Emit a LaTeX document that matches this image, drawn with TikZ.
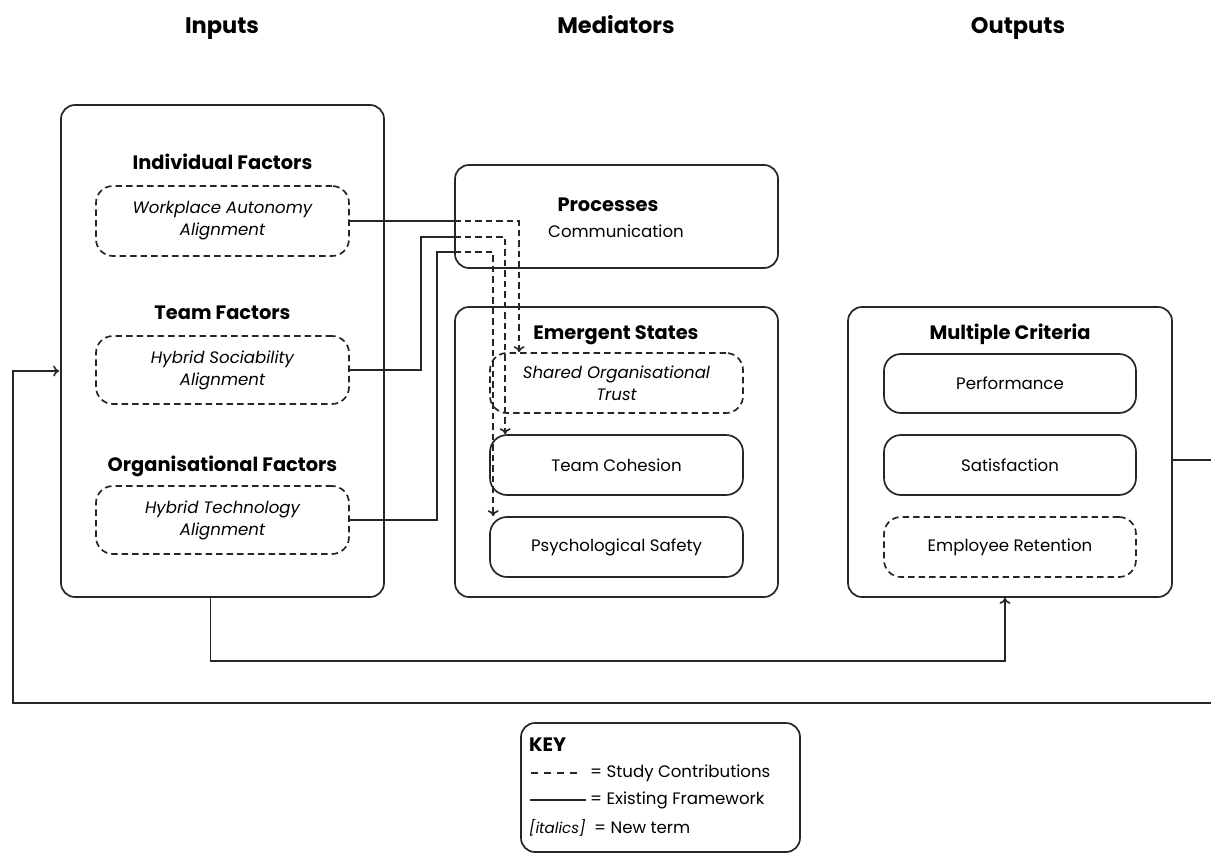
\documentclass[tikz,border=0pt]{standalone}
\usepackage{fontspec}
\setmainfont{Poppins}
\usetikzlibrary{arrows.meta,calc}

\newcommand{\bodyfont}{\fontsize{16.6}{22}\selectfont}
\newcommand{\headfont}{\fontsize{19.4}{24}\selectfont\bfseries}
\newcommand{\colfont}{\fontsize{22.5}{26}\selectfont\bfseries}

\begin{document}
\begin{tikzpicture}[x=1pt,y=-1pt,
  ink/.style={draw=black!85, line width=1.7pt},
  outerbox/.style={ink, rounded corners=14pt, inner sep=0pt},
  itembox/.style={ink, rounded corners=17pt, minimum width=253pt, align=center,
                  font=\bodyfont, inner sep=0pt},
  newbox/.style={itembox, dash pattern=on 6.5pt off 4pt, font=\bodyfont\itshape},
  oldlink/.style={ink, line width=1.6pt},
  newlink/.style={ink, line width=1.6pt, dash pattern=on 6.5pt off 4pt},
  tip/.style={-{To[length=6pt,width=11pt]}},
  heading/.style={font=\headfont, inner sep=0pt},
  coltitle/.style={font=\colfont, inner sep=0pt, anchor=base},
  keytext/.style={font=\bodyfont, inner sep=0pt, anchor=west}]
\useasboundingbox (0,0) rectangle (1211,854);

% column titles
\node[coltitle] (tin)  at (222,33) {Inputs};
\node[coltitle] (tmed) at (616,33) {Mediators};
\node[coltitle] (tout) at (1018,33) {Outputs};

% inputs
\node[outerbox, minimum width=323pt, minimum height=492pt] (inputs) at (222.5,351) {};
\node[heading] (hind)  at (222.5,162) {Individual Factors};
\node[newbox, minimum height=70pt] (wa) at (222.5,221) {Workplace Autonomy\\Alignment};
\node[heading] (hteam) at (222.5,313) {Team Factors};
\node[newbox, minimum height=68pt] (hs) at (222.5,370) {Hybrid Sociability\\Alignment};
\node[heading] (horg)  at (222.5,466) {Organisational Factors};
\node[newbox, minimum height=68pt] (ht) at (222.5,520) {Hybrid Technology\\Alignment};

% mediators
\node[outerbox, minimum width=323pt, minimum height=103pt] (proc) at (616.5,216.5) {};
\node[heading] (hproc) at (608,205) {Processes};
\node[font=\bodyfont, inner sep=0pt] (comm) at (616,231) {Communication};

\node[outerbox, minimum width=323pt, minimum height=290pt] (es) at (616.5,452) {};
\node[heading] (hes) at (616,335) {Emergent States};
\node[newbox, minimum height=60pt] (sot) at (616.5,383) {Shared Organisational\\Trust};
\node[itembox, minimum height=60pt] (tc) at (616.5,465) {Team Cohesion};
\node[itembox, minimum height=60pt] (ps) at (616.5,547) {Psychological Safety};

% outputs
\node[outerbox, minimum width=324pt, minimum height=290pt] (mc) at (1010,452) {};
\node[heading] (hmc) at (1010,334) {Multiple Criteria};
\node[itembox, minimum width=252pt, minimum height=59pt] (perf) at (1010,383.5) {Performance};
\node[itembox, minimum width=252pt, minimum height=60pt] (sat)  at (1010,465) {Satisfaction};
\node[newbox, minimum width=252pt, minimum height=60pt, font=\bodyfont] (er) at (1010,547) {Employee Retention};

% input factors into the mediators
\coordinate (k2) at (421,237);
\coordinate (k3) at (437,252);
\draw[oldlink] (wa.east) -- (proc.west |- wa.east) coordinate (c1);
\draw[newlink, tip] (c1) -| ($(sot.north west)+(30,0)$);
\draw[oldlink] (hs.east) -| (k2) -- (proc.west |- k2) coordinate (c2);
\draw[newlink, tip] (c2) -| ($(tc.north west)+(16,0)$);
\draw[oldlink] (ht.east) -| (k3) -- (proc.west |- k3) coordinate (c3);
\draw[newlink, tip] (c3) -| ($(ps.north west)+(4,0)$);

% direct path from inputs to outputs
\draw[oldlink, tip] ($(inputs.south)+(-12,0)$) -- ++(0,63) -| ($(mc.south)+(-5,0)$);

% feedback loop from outputs back to inputs
\coordinate (fbr) at (1216,703);
\coordinate (fbl) at (13,703);
\draw[oldlink, tip] ($(mc.east)+(0,8)$) -| (fbr) -- (fbl) |- ($(inputs.west)+(-1,20)$);

% key
\node[outerbox, minimum width=279pt, minimum height=129pt] (key) at (660.5,787.5) {};
\node[keytext, font=\headfont] (keyt) at (529,745) {KEY};
\coordinate (ka) at (531,773);
\coordinate (kb) at (583,773);
\coordinate (kc) at (530,800);
\coordinate (kd) at (586,800);
\draw[ink, line width=1.2pt, dash pattern=on 7pt off 6pt] (ka) -- (kb);
\node[keytext] (k1) at (590,773) {= Study Contributions};
\draw[ink, line width=1.4pt] (kc) -- (kd);
\node[keytext] (k2t) at (590,800) {= Existing Framework};
\node[keytext, font=\fontsize{15}{18}\selectfont\itshape] (k3i) at (529,828) {[italics]};
\node[keytext] (k3t) at (594,828) {= New term};
\end{tikzpicture}
\end{document}
